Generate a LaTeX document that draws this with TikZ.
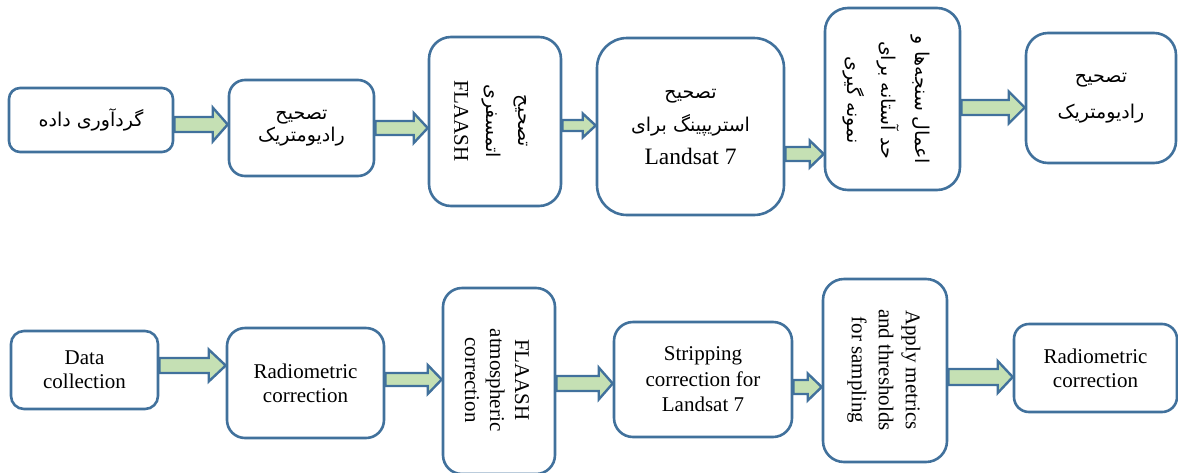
\documentclass[tikz,border=0pt]{standalone}
\usepackage{fontspec}
\usepackage{tikz}
\setmainfont{Liberation Serif}
\newfontfamily\fa[Script=Arabic]{DejaVu Sans}
\TeXXeTstate=1
\definecolor{boxblue}{RGB}{65,113,156}
\definecolor{arrowgreen}{RGB}{197,224,180}
% block arrow: from, to, y, half shaft, half head, head length
\newcommand{\fatarrow}[6]{%
	\coordinate (s) at (#1.east |- 0,#3);
	\coordinate (e) at (#2.west |- 0,#3);
	\draw[arrowbody] ([shift={(0,#4)}]s) -- ([shift={(-#6,#4)}]e) -- ([shift={(-#6,#5)}]e) -- (e)
		-- ([shift={(-#6,-#5)}]e) -- ([shift={(-#6,-#4)}]e) -- ([shift={(0,-#4)}]s) -- cycle;}

\begin{document}
\begin{tikzpicture}
					[x=1pt,y=-1pt,
					box/.style={rectangle,draw=boxblue,fill=white,line width=2.6pt,inner sep=0pt,align=center},
					arrowbody/.style={draw=boxblue,fill=arrowgreen,line width=2.4pt},
					en/.style={font=\fontsize{21}{24}\selectfont}]
					\useasboundingbox (0,0) rectangle (1178,472);
					% Persian row
					\node[box,minimum width=164,minimum height=64,rounded corners=11,font=\fa\fontsize{19}{23}\selectfont] (t1) at (91,120) {\beginR گردآوری داده\endR};
					\node[box,minimum width=145,minimum height=96,rounded corners=16,font=\fa\fontsize{19}{22}\selectfont] (t2) at (301.5,128) {\beginR تصحیح\endR\\\beginR رادیومتریک\endR};
					\node[box,minimum width=132,minimum height=169,rounded corners=22] (t3) at (495,121.5) {};
					\node[rotate=-90,align=center,font=\fa\fontsize{19}{32}\selectfont] (t3txt) at (491,121) {\beginR تصحیح\endR\\\beginR اتمسفری\endR\\{\rmfamily\fontsize{21}{32}\selectfont FLAASH}};
					\node[box,minimum width=187,minimum height=177,rounded corners=30,font=\fa\fontsize{19}{33}\selectfont] (t4) at (690.5,126.5) {\beginR تصحیح\endR\\\beginR استریپینگ برای\endR\\{\rmfamily\fontsize{23.5}{33}\selectfont Landsat 7}};
					\node[box,minimum width=135,minimum height=182,rounded corners=23] (t5) at (892.5,99) {};
					\node[rotate=-90,align=center,font=\fa\fontsize{19}{34}\selectfont] (t5txt) at (886,100) {\beginR اعمال سنجه‌ها و\endR\\\beginR حد آستانه برای\endR\\\beginR نمونه گیری\endR};
					\node[box,minimum width=150,minimum height=130,rounded corners=22,font=\fa\fontsize{19}{36}\selectfont] (t6) at (1101,98) {\beginR تصحیح\endR\\\beginR رادیومتریک\endR};
					% English row
					\node[box,en,minimum width=147,minimum height=78,rounded corners=13] (b1) at (84.5,370) {Data\\collection};
					\node[box,en,minimum width=157,minimum height=110,rounded corners=18] (b2) at (305.5,383) {Radiometric\\correction};
					\node[box,minimum width=112,minimum height=186,rounded corners=19] (b3) at (499,381) {};
					\node[rotate=-90,align=center,font=\fontsize{21}{25}\selectfont] (b3txt) at (497,380) {FLAASH\\atmospheric\\correction};
					\node[box,minimum width=178,minimum height=115,rounded corners=19,font=\fontsize{21}{25.5}\selectfont] (b4) at (703,379.5) {Stripping\\correction for\\Landsat 7};
					\node[box,minimum width=124,minimum height=183,rounded corners=21] (b5) at (885,370.5) {};
					\node[rotate=-90,align=center,font=\fontsize{21}{27}\selectfont] (b5txt) at (884,370) {Apply metrics\\and thresholds\\for sampling};
					\node[box,en,minimum width=163,minimum height=88,rounded corners=15] (b6) at (1095.5,368) {Radiometric\\correction};
					% arrows
					\fatarrow{t1}{t2}{124.5}{7.5}{17}{15}
					\fatarrow{t2}{t3}{128}{7}{15}{14}
					\fatarrow{t3}{t4}{125.5}{5.5}{12}{13}
					\fatarrow{t4}{t5}{154}{7}{13.5}{14}
					\fatarrow{t5}{t6}{107.5}{7.5}{16}{16}
					\fatarrow{b1}{b2}{365.5}{7.5}{16}{17}
					\fatarrow{b2}{b3}{379.5}{6.5}{14.5}{14}
					\fatarrow{b3}{b4}{383.5}{7.5}{16}{14}
					\fatarrow{b4}{b5}{387}{7}{13.5}{14}
					\fatarrow{b5}{b6}{377}{8}{16}{15}
\end{tikzpicture}
\end{document}
